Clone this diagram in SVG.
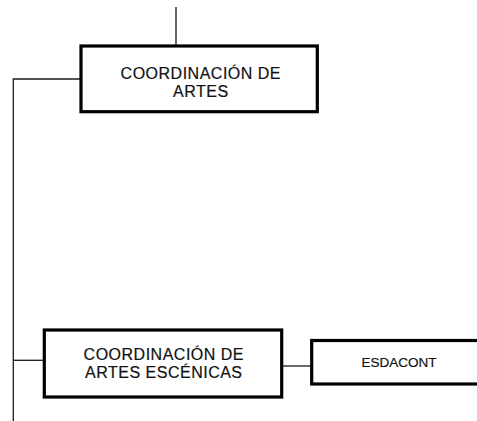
<svg xmlns="http://www.w3.org/2000/svg" width="477" height="421" viewBox="0 0 477 421">
<style>
.box{fill:#fff;stroke:#000;stroke-width:3.2}
.ln{fill:none;stroke:#1a1a1a;stroke-width:1.3}
.t{font-family:"Liberation Sans",Arial,sans-serif;fill:#111;stroke:#111;stroke-width:0.2;text-anchor:middle}
.big{font-size:16px;letter-spacing:0.5px}
.small{font-size:13.5px}
</style>
<rect width="477" height="421" fill="#fff"/>
<g id="connectors">
<line class="ln" x1="176" y1="7" x2="176" y2="46"/>
<polyline class="ln" points="81,79 13.3,79 13.3,421"/>
<line class="ln" x1="13.3" y1="360.3" x2="44" y2="360.3"/>
<line class="ln" x1="281.7" y1="366" x2="311.7" y2="366"/>
</g>
<g id="coord-artes">
<rect class="box" x="81" y="46" width="236.3" height="65.7"/>
<text class="t big"><tspan x="200.8" y="78.5">COORDINACIÓN DE</tspan><tspan x="200.8" y="96.5">ARTES</tspan></text>
</g>
<g id="coord-artes-escenicas">
<rect class="box" x="44.3" y="330" width="237.4" height="67"/>
<text class="t big"><tspan x="163.8" y="359.5">COORDINACIÓN DE</tspan><tspan x="163.8" y="377.5">ARTES ESCÉNICAS</tspan></text>
</g>
<g id="esdacont">
<rect class="box" x="311.7" y="340.5" width="180" height="43.5"/>
<text class="t small" x="399" y="366.7">ESDACONT</text>
</g>
</svg>
